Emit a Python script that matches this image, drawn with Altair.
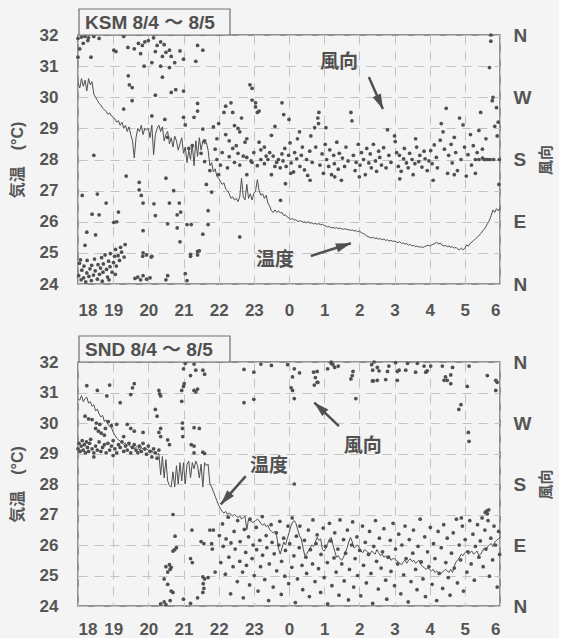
import altair as alt
import pandas as pd

# ---------------- data ----------------
hour_ticks = list(range(13))
temp_ticks = [24, 25, 26, 27, 28, 29, 30, 31, 32]
dir_ticks = [0, 90, 180, 270, 360]
dir_labels = ["N", "E", "S", "W", "N"]
STEP_H = 0.05  # 3-minute readings, hours after 18:00

ksm_temp = [
    30.45, 30.3, 30.6, 30.35, 30.55, 30.2, 30.6, 30.4, 30.5, 30.1, 30.0, 29.9, 29.8, 29.75, 29.65, 29.6, 29.55, 29.45, 29.5, 29.4,
    29.35, 29.3, 29.2, 29.25, 29.1, 29.2, 29.0, 29.1, 28.9, 29.05, 28.8, 28.6, 28.05, 28.7, 29.0, 28.9, 29.1, 28.8, 29.0, 28.95,
    29.0, 28.7, 29.1, 28.15, 28.8, 29.0, 29.1, 28.9, 29.05, 28.6, 28.8, 28.9, 28.5, 28.7, 28.4, 28.75, 28.6, 28.3, 28.5, 28.7,
    28.2, 28.4, 27.9, 28.3, 28.0, 28.5, 27.8, 28.6, 28.1, 28.7, 28.3, 28.6, 28.5, 28.55, 28.3, 27.8, 27.9, 27.6, 27.7, 27.45,
    27.4, 27.3, 27.2, 27.25, 27.05, 27.0, 26.9, 26.75, 26.8, 26.7, 26.75, 26.65, 26.8, 27.4, 26.8, 26.7, 27.2, 26.75, 26.9, 26.7,
    26.9, 27.0, 27.35, 27.0, 26.85, 26.9, 26.75, 26.85, 26.6, 26.5, 26.35, 26.3, 26.38, 26.3, 26.35, 26.28, 26.3, 26.2, 26.22, 26.15,
    26.12, 26.08, 26.1, 26.05, 26.07, 26.0, 26.03, 26.02, 25.98, 26.0, 25.97, 26.0, 25.95, 25.97, 25.93, 25.95, 25.92, 25.94, 25.9, 25.92,
    25.88, 25.86, 25.83, 25.85, 25.8, 25.82, 25.79, 25.81, 25.78, 25.8, 25.77, 25.76, 25.78, 25.74, 25.75, 25.72, 25.74, 25.7, 25.72, 25.68,
    25.7, 25.66, 25.62, 25.6, 25.55, 25.52, 25.5, 25.48, 25.5, 25.46, 25.48, 25.44, 25.46, 25.42, 25.45, 25.4, 25.42, 25.38, 25.4, 25.37,
    25.38, 25.35, 25.33, 25.36, 25.3, 25.32, 25.28, 25.3, 25.25, 25.27, 25.22, 25.24, 25.2, 25.22, 25.18, 25.2, 25.17, 25.2, 25.22, 25.25,
    25.22, 25.25, 25.28, 25.3, 25.35, 25.28, 25.32, 25.25, 25.22, 25.24, 25.2, 25.22, 25.18, 25.2, 25.15, 25.18, 25.12, 25.1, 25.15, 25.1,
    25.15, 25.25, 25.22, 25.3, 25.35, 25.4, 25.45, 25.5, 25.55, 25.62, 25.7, 25.75, 25.85, 25.95, 26.05, 26.2, 26.38, 26.3, 26.42, 26.35, 26.45,
]

snd_temp = [
    30.8, 30.75, 30.9, 30.7, 30.8, 30.85, 30.65, 30.7, 30.55, 30.6, 30.4, 30.45, 30.3, 30.2, 30.25, 30.05, 30.1, 29.95, 29.9, 29.85,
    29.7, 29.6, 29.5, 29.45, 29.4, 29.35, 29.3, 29.35, 29.25, 29.3, 29.2, 29.25, 29.15, 29.2, 29.25, 29.1, 29.2, 29.15, 29.1, 29.15,
    29.1, 29.05, 29.1, 29.0, 29.05, 28.95, 29.0, 28.3, 28.9, 28.2, 28.8, 28.1, 27.95, 27.9, 28.4, 27.9, 28.6, 28.0, 28.7, 28.1,
    28.7, 28.0, 28.65, 28.75, 28.2, 28.7, 28.5, 28.75, 28.6, 28.2, 28.65, 27.9, 28.7, 28.6, 28.65, 28.0, 27.9, 27.75, 27.6, 27.45,
    27.3, 27.2, 27.1, 27.05, 27.1, 27.0, 27.05, 27.0, 26.95, 27.0, 26.95, 26.9, 26.95, 26.85, 26.9, 26.95, 26.5, 26.85, 26.8, 26.75,
    26.75, 26.8, 26.85, 26.8, 26.7, 26.65, 26.7, 26.6, 26.65, 26.5, 26.45, 26.4, 26.45, 26.3, 25.9, 25.7, 25.9, 26.1, 26.0, 26.2,
    26.4, 26.6, 26.75, 26.8, 26.7, 26.5, 26.3, 26.2, 25.9, 25.65, 25.7, 25.8, 25.9, 26.0, 25.95, 26.1, 26.25, 26.15, 26.2, 25.85,
    25.8, 25.9, 26.05, 26.2, 26.25, 26.0, 25.8, 25.6, 25.65, 25.55, 25.5, 25.6, 25.75, 25.9, 26.1, 26.25, 26.1, 25.9, 25.95, 26.0,
    25.9, 25.8, 25.75, 25.85, 25.8, 25.75, 25.7, 25.8, 25.75, 25.7, 25.85, 25.75, 25.65, 25.7, 25.6, 25.65, 25.55, 25.6, 25.5, 25.55,
    25.55, 25.5, 25.45, 25.4, 25.35, 25.45, 25.5, 25.4, 25.5, 25.55, 25.45, 25.5, 25.4, 25.45, 25.5, 25.35, 25.3, 25.25, 25.2, 25.25,
    25.2, 25.15, 25.2, 25.1, 25.15, 25.1, 25.05, 25.1, 25.15, 25.2, 25.15, 25.1, 25.2, 25.1, 25.3, 25.45, 25.5, 25.6, 25.7, 25.65,
    25.75, 25.8, 25.7, 25.75, 25.8, 25.7, 25.75, 25.8, 25.65, 25.7, 25.8, 25.9, 25.85, 25.95, 26.0, 26.05, 25.95, 26.1, 26.15, 26.2, 26.25,
]

# wind direction readings: (hours after 18:00, degrees; 0/360 = N, 90 = E, 180 = S, 270 = W)
ksm_wind = [
    (0.02, 12), (0.04, 30), (0.09, 6), (0.11, 20), (0.16, 9), (0.17, 26), (0.22, 3), (0.25, 16), (0.26, 34), (0.31, 11),
    (0.34, 22), (0.38, 5), (0.39, 27), (0.44, 13), (0.47, 36), (0.49, 19), (0.55, 7), (0.57, 28), (0.61, 14), (0.64, 23),
    (0.67, 38), (0.71, 17), (0.72, 29), (0.77, 42), (0.81, 21), (0.84, 10), (0.87, 33), (0.91, 25), (0.92, 44), (0.97, 17),
    (1.01, 31), (1.04, 40), (1.07, 50), (1.09, 26), (1.14, 41), (1.18, 34), (1.21, 53), (1.24, 46), (1.31, 39), (1.34, 57),
    (1.06, 14), (0.88, 6), (0.69, 4),
    (1.62, 8), (1.7, 10), (1.78, 6), (1.85, 12), (1.95, 7), (2.05, 9), (2.1, 40), (2.5, 6), (2.55, 12), (3.05, 15),
    (3.1, 5), (3.4, 42), (3.45, 48), (3.2, 40), (1.85, 45), (1.95, 42),
    (0.0, 355), (0.05, 340), (0.1, 357), (0.15, 348), (0.2, 358), (0.28, 352), (0.37, 328), (0.45, 358), (0.6, 355),
    (0.0, 328), (0.3, 356), (1.02, 338), (1.08, 336), (1.3, 358), (1.42, 342), (1.6, 340), (1.72, 348), (1.78, 333),
    (1.83, 345), (1.9, 350), (1.88, 315), (2.0, 352), (2.15, 356), (2.25, 345), (2.35, 350), (2.4, 329), (2.45, 346),
    (2.5, 335), (2.6, 338), (2.65, 329), (2.75, 320), (2.9, 337), (3.0, 325), (3.35, 322), (3.4, 345), (3.55, 338),
    (2.1, 320), (2.2, 336),
    (0.45, 186), (0.12, 128), (0.4, 101), (0.2, 56), (0.5, 71), (0.07, 35), (0.8, 117), (1.02, 89), (1.1, 90), (1.15, 104),
    (1.37, 156), (1.43, 301), (1.46, 288), (1.54, 284), (1.54, 265), (1.3, 253), (1.74, 147), (1.74, 136), (1.8, 128),
    (1.85, 77), (1.85, 117), (2.08, 39), (1.84, 40), (2.16, 116), (2.2, 99), (2.1, 243), (2.2, 273), (2.4, 299), (2.35, 315),
    (2.6, 313), (2.65, 277), (2.78, 281), (2.47, 238), (2.55, 212), (2.5, 153), (2.6, 117), (2.55, 87), (2.72, 135),
    (2.88, 117), (2.92, 104), (2.82, 100), (2.82, 81), (2.9, 61), (3.1, 86), (3.22, 86), (3.2, 43), (3.4, 47), (3.4, 250),
    (3.4, 261), (3.0, 241), (3.3, 241), (3.0, 279), (3.55, 224), (3.6, 207), (3.5, 189), (3.6, 177), (3.65, 144),
    (3.7, 106), (3.75, 164), (3.7, 86), (3.55, 72), (3.8, 133), (0.6, 100), (0.25, 75), (0.55, 130), (3.05, 230),
    (3.15, 196), (3.25, 200),
    (3.85, 227), (4.0, 232), (4.15, 248), (4.2, 257), (4.4, 248), (4.45, 229), (4.55, 225), (4.6, 220), (4.3, 207),
    (4.4, 196), (4.55, 189), (4.7, 185), (4.92, 178), (3.9, 195), (3.95, 180), (4.05, 172), (4.0, 158), (4.25, 168),
    (4.45, 176), (4.6, 172), (4.8, 158), (4.95, 176), (5.1, 171), (5.2, 180), (5.3, 174), (5.4, 180), (5.5, 158),
    (5.6, 170), (5.65, 176), (4.95, 266), (5.05, 262), (5.1, 248), (4.95, 283), (5.3, 198), (5.2, 194), (4.6, 68),
    (4.8, 183), (4.1, 190), (4.3, 184), (4.5, 200), (4.75, 205), (5.0, 190), (5.15, 205), (5.35, 185), (5.45, 190),
    (5.55, 185), (5.7, 180), (5.75, 168), (5.8, 188), (4.35, 262), (4.65, 240), (5.5, 215), (5.6, 228), (4.2, 216),
    (3.95, 210), (4.89, 288), (5.05, 256), (5.15, 250), (5.8, 262), (5.85, 245), (6.0, 238), (5.76, 121), (6.85, 248),
    (7.05, 226), (4.8, 210),
    (5.83, 178), (5.88, 196), (5.92, 170), (5.99, 186), (6.03, 204), (6.06, 175), (6.13, 162), (6.16, 190), (6.22, 181),
    (6.24, 210), (6.31, 170), (6.35, 186), (6.38, 198), (6.44, 165), (6.5, 180), (6.53, 157), (6.59, 192), (6.62, 214),
    (6.66, 176), (6.73, 226), (6.76, 198), (6.82, 240), (6.84, 232), (6.88, 172), (6.94, 188), (6.98, 160), (7.03, 202),
    (7.07, 180), (7.13, 170), (7.16, 194), (7.21, 158), (7.27, 186), (7.29, 174), (7.36, 205), (7.4, 166), (7.43, 189),
    (7.49, 150), (7.52, 182), (7.58, 170), (7.62, 198), (7.68, 178), (7.76, 248), (7.79, 236), (7.83, 186), (7.88, 164),
    (7.91, 176), (7.97, 202), (8.02, 172), (8.06, 190), (8.12, 180), (8.17, 158), (8.21, 196), (8.27, 175), (8.31, 188),
    (8.34, 168), (8.4, 202), (8.46, 178), (8.49, 163), (8.55, 192), (8.58, 183), (8.63, 172), (8.69, 197), (8.8, 223),
    (8.76, 168), (8.84, 186), (8.9, 176), (9.0, 214), (9.02, 206), (9.06, 190), (9.11, 170), (9.14, 186), (9.19, 163),
    (9.26, 181), (9.28, 196), (9.34, 175), (9.39, 168), (9.43, 189), (9.5, 180), (9.53, 158), (9.58, 174), (9.63, 198),
    (9.69, 177), (9.72, 186), (9.78, 169), (9.84, 192), (9.87, 181), (9.93, 164), (9.98, 178), (10.03, 193), (10.07, 174),
    (10.13, 201), (10.19, 183), (10.22, 168), (10.3, 208), (10.33, 232), (10.38, 220), (10.42, 195), (10.47, 254),
    (10.51, 160), (10.54, 186), (10.61, 202), (10.64, 175), (10.7, 212), (10.74, 190), (10.79, 164), (10.85, 240),
    (10.89, 180), (10.95, 230), (10.99, 198), (11.04, 156), (11.09, 187), (11.16, 216), (11.19, 172), (11.24, 200),
    (11.3, 180), (11.35, 190), (11.4, 222), (11.45, 248), (11.5, 182), (11.55, 180), (11.6, 210), (11.65, 180),
    (11.7, 313), (11.72, 180), (11.74, 360), (11.74, 351), (11.78, 265), (11.8, 270), (11.82, 180), (11.85, 228),
    (11.9, 255), (11.92, 214), (11.95, 234), (11.97, 144), (11.98, 180), (11.6, 180), (11.4, 180), (11.5, 195),
    (6.3, 220), (6.05, 160), (7.3, 155), (8.0, 155), (9.15, 152), (9.6, 210), (10.1, 150), (10.7, 158), (11.3, 160),
    (6.6, 150), (5.9, 145),
]

snd_wind = [
    (0.0, 232), (0.03, 240), (0.06, 228), (0.09, 236), (0.12, 244), (0.15, 230), (0.18, 238), (0.21, 226), (0.24, 242),
    (0.27, 234), (0.3, 228), (0.33, 240), (0.36, 246), (0.4, 232), (0.45, 226), (0.5, 236), (0.55, 230), (0.6, 242),
    (0.65, 228), (0.7, 234), (0.75, 238), (0.8, 226), (0.85, 240), (0.9, 230), (0.95, 236), (1.0, 244), (1.05, 232),
    (1.1, 226), (1.15, 238), (1.2, 234), (1.25, 242), (1.3, 228), (1.35, 236), (1.4, 230), (1.45, 240), (1.5, 226),
    (1.55, 234), (1.6, 238), (1.65, 230), (1.7, 226), (1.75, 236), (1.8, 228), (1.85, 240), (1.9, 232), (1.95, 224),
    (2.0, 236), (2.05, 228), (2.1, 220), (2.15, 232), (2.2, 226), (2.25, 218), (2.3, 230), (1.0, 222), (0.45, 220),
    (0.5, 262), (0.58, 258), (0.62, 268), (0.66, 255), (0.78, 262), (0.86, 272), (0.95, 266), (0.3, 276), (0.4, 275),
    (0.52, 270), (0.75, 252), (0.2, 280), (1.4, 268), (1.5, 262), (1.6, 258), (1.85, 256), (2.2, 290), (2.25, 280),
    (2.35, 262), (2.35, 250), (2.3, 256), (1.1, 268), (1.3, 250),
    (0.55, 318), (0.9, 326), (0.82, 310), (1.55, 322), (1.5, 312), (1.6, 328), (2.3, 318), (2.32, 313), (2.35, 310),
    (0.25, 325), (1.2, 300),
    (2.95, 318), (3.0, 324), (3.02, 328), (2.95, 302), (2.97, 270), (2.97, 262), (2.98, 250), (3.3, 318), (3.35, 316),
    (3.4, 320), (3.22, 238), (3.3, 236), (3.3, 226), (3.55, 227), (3.6, 225), (3.3, 263), (3.45, 262), (2.6, 238),
    (2.55, 245),
    (3.0, 350), (3.05, 358), (3.3, 357), (3.35, 348), (3.55, 348), (3.6, 342), (3.2, 340), (4.72, 349), (5.0, 345),
    (5.2, 357), (5.5, 355), (6.1, 338), (6.15, 350), (6.3, 344), (6.7, 345), (6.75, 337), (6.8, 330), (6.72, 326),
    (7.1, 350), (7.2, 358), (7.3, 352), (7.4, 354), (7.8, 340), (7.82, 346), (4.72, 300), (5.0, 305), (6.1, 318),
    (6.15, 180), (5.96, 356), (6.06, 322), (6.15, 306), (6.8, 346), (6.82, 330), (7.2, 360), (7.25, 356), (7.76, 335),
    (7.9, 306), (8.35, 356), (8.38, 348), (8.4, 332),
    (8.42, 360), (8.51, 352), (8.56, 347), (8.37, 332), (8.51, 333), (8.75, 334), (8.8, 346), (8.84, 354), (9.03, 359),
    (9.08, 346), (9.13, 348), (9.08, 333), (9.32, 348), (9.37, 358), (9.6, 345), (9.65, 358), (9.84, 354), (9.89, 345),
    (9.93, 347), (10.03, 354), (10.36, 354), (10.41, 333), (10.45, 338), (10.5, 333), (10.6, 341), (10.6, 328),
    (10.65, 352), (11.07, 324), (11.12, 354), (11.64, 340), (11.88, 333), (11.92, 330), (11.88, 318), (10.83, 290),
    (11.12, 243), (10.89, 297), (11.1, 256), (10.9, 130),
    (2.7, 135), (2.76, 103), (3.24, 112), (2.7, 81), (2.75, 83), (2.8, 86), (2.6, 61), (2.62, 54), (2.65, 57), (2.5, 58),
    (2.55, 50), (2.45, 40), (2.55, 32), (2.65, 22), (2.7, 20), (2.62, 8), (2.45, 6), (3.2, 70), (3.25, 64), (3.5, 95),
    (3.58, 92), (3.75, 112), (3.85, 112), (3.8, 92), (3.82, 84), (3.9, 50), (3.55, 43), (3.6, 40), (3.7, 42), (3.55, 20),
    (3.58, 26), (3.56, 33), (2.35, 3), (2.5, 2), (3.0, 10), (3.2, 4), (3.4, 12),
    (4.02, 104), (4.06, 64), (4.11, 121), (4.13, 88), (4.19, 47), (4.21, 99), (4.27, 131), (4.29, 72), (4.34, 18),
    (4.35, 93), (4.41, 58), (4.44, 110), (4.47, 84), (4.53, 36), (4.54, 126), (4.6, 66), (4.61, 95), (4.68, 50),
    (4.7, 12), (4.73, 113), (4.77, 79), (4.79, 60), (4.85, 102), (4.88, 31), (4.89, 128), (4.95, 70), (4.98, 90),
    (5.01, 45), (5.07, 116), (5.08, 83), (5.12, 22), (5.17, 97), (5.19, 58), (5.24, 132), (5.25, 75), (5.31, 39),
    (5.35, 104), (5.37, 86), (5.42, 8), (5.44, 62), (5.49, 120), (5.52, 94), (5.55, 28), (5.58, 77), (5.64, 108),
    (5.65, 52), (5.71, 90), (5.74, 125), (5.78, 17), (5.79, 66), (5.85, 100), (5.88, 44), (5.9, 82), (5.97, 118),
    (5.99, 33), (6.02, 92), (6.08, 57), (6.09, 130), (6.14, 74), (6.18, 5), (6.21, 103), (6.24, 40), (6.29, 86),
    (6.31, 118), (6.37, 60), (6.39, 24), (6.44, 97), (6.48, 72), (6.5, 48), (6.55, 112), (6.58, 14), (6.61, 83),
    (6.67, 62), (6.68, 127), (6.74, 36), (6.77, 92), (6.8, 105), (6.84, 55), (6.9, 20), (6.91, 76), (6.97, 115),
    (7.0, 42), (7.04, 88), (7.09, 64), (7.1, 3), (7.15, 122), (7.19, 96), (7.22, 30), (7.28, 71), (7.3, 108), (7.34, 50),
    (7.39, 84), (7.42, 16), (7.45, 127), (7.5, 62), (7.55, 98), (7.57, 37), (7.61, 78), (7.66, 112), (7.69, 9),
    (7.72, 54), (7.78, 90), (7.81, 124), (7.84, 28), (7.88, 70), (7.93, 102), (7.95, 45), (8.01, 82), (8.04, 15),
    (8.09, 118), (8.12, 60), (8.17, 94), (8.2, 34), (8.26, 76), (8.29, 110), (8.33, 48), (8.38, 4), (8.41, 88),
    (8.46, 126), (8.49, 66), (8.54, 25), (8.57, 100), (8.62, 56), (8.66, 80), (8.7, 114), (8.75, 38), (8.78, 10),
    (8.83, 72), (8.88, 97), (8.9, 51), (8.96, 122), (9.0, 30), (9.03, 84), (9.09, 62), (9.12, 106), (9.18, 18),
    (9.21, 90), (9.26, 46), (9.3, 118), (9.33, 70), (9.39, 6), (9.42, 98), (9.47, 36), (9.52, 78), (9.54, 112),
    (9.6, 54), (9.64, 24), (9.67, 88), (9.73, 128), (9.76, 65), (9.81, 40), (9.86, 102), (9.88, 14), (9.94, 80),
    (9.98, 58), (10.02, 116), (10.07, 32), (10.11, 92), (10.15, 70), (10.2, 8), (10.24, 110), (10.27, 48), (10.33, 86),
    (10.37, 26), (10.4, 120), (10.46, 64), (10.5, 100), (10.53, 42), (10.58, 16), (10.62, 78), (10.67, 108),
    (10.7, 56), (10.76, 128), (10.79, 34), (10.84, 90), (10.88, 68), (10.93, 118), (10.96, 22), (11.01, 98),
    (11.06, 50), (11.09, 80), (11.14, 126), (11.18, 62), (11.23, 106), (11.27, 38), (11.3, 88), (11.36, 120),
    (11.4, 72), (11.44, 96), (11.49, 130), (11.52, 58), (11.57, 112), (11.6, 84), (11.66, 126), (11.7, 44),
    (11.74, 100), (11.79, 68), (11.83, 118), (11.87, 90), (11.92, 28), (11.96, 110), (11.99, 76),
    (11.58, 138), (11.62, 140), (11.64, 136), (11.68, 142),
]

# annotation texts (label, hour, temperature-axis position)
ksm_notes = [("風向", 7.42, 31.13), ("温度", 5.6, 24.77)]
snd_notes = [("温度", 5.43, 28.6), ("風向", 8.1, 29.25)]
# arrows (start hour, start temp, tip hour, tip temp, head angle)
ksm_arrows = [(8.27, 30.65, 8.67, 29.62, 156), (6.62, 24.9, 7.76, 25.31, 72)]
snd_arrows = [(4.77, 28.26, 4.06, 27.33, 221), (7.42, 29.9, 6.72, 30.67, 313)]

# ---------------- style ----------------
FONT = "Liberation Sans, Arial, Noto Sans CJK JP, sans-serif"
INK = "#505050"
BG = "#f4f4f4"
GRID = "#c2c2c2"
W = 422


def panel(temp, wind, title, notes, arrows, height, xpad):
    tdf = pd.DataFrame({"h": [i * STEP_H for i in range(len(temp))], "t": temp})
    wdf = pd.DataFrame(wind, columns=["h", "d"])
    ndf = pd.DataFrame(notes, columns=["label", "h", "t"])
    adf = pd.DataFrame(arrows, columns=["h", "t", "h2", "t2", "ang"])

    xs = alt.Scale(domain=[0, 12], nice=False, zero=False)
    xaxis = alt.Axis(values=hour_ticks, labelExpr="(datum.value + 18) % 24", title=None,
                     grid=True, labelPadding=xpad, labelAngle=0)
    ts = alt.Scale(domain=[24, 32], nice=False, zero=False)
    yaxis = alt.Axis(values=temp_ticks, title="気温　(°C)", grid=True, labelPadding=20,
                     titlePadding=14, titleFontSize=16)
    ds = alt.Scale(domain=[0, 360], nice=False, zero=False)
    daxis = alt.Axis(orient="right", values=dir_ticks,
                     labelExpr="['N','E','S','W','N'][round(datum.value / 90)]",
                     title="風向", titleAngle=270, titleBaseline="top", titleFontSize=15,
                     titlePadding=8, grid=False, labelPadding=13, labelFontSize=19)

    X = alt.X("h:Q", scale=xs, axis=xaxis)

    line = alt.Chart(tdf).mark_line(color=INK, strokeWidth=1).encode(
        x=X, y=alt.Y("t:Q", scale=ts, axis=yaxis))
    pts = alt.Chart(wdf).mark_circle(color=INK, size=14, opacity=1).encode(
        x=X, y=alt.Y("d:Q", scale=ds, axis=daxis))
    txt = alt.Chart(ndf).mark_text(font=FONT, fontSize=19, fontWeight="bold", color=INK).encode(
        x=X, y=alt.Y("t:Q", scale=ts, axis=None), text="label:N")
    shaft = alt.Chart(adf).mark_rule(color=INK, strokeWidth=2.5).encode(
        x=X, y=alt.Y("t:Q", scale=ts, axis=None), x2="h2:Q", y2="t2:Q")
    head = alt.Chart(adf).mark_point(shape="M0,0L0.9,3L-0.9,3Z", filled=True, size=100,
                                     color=INK, opacity=1).encode(
        x=alt.X("h2:Q", scale=xs, axis=xaxis), y=alt.Y("t2:Q", scale=ts, axis=None),
        angle=alt.Angle("ang:Q", scale=None))
    box_df = pd.DataFrame({"label": [title]})
    box = alt.Chart(box_df).mark_rect(fill=BG, stroke="#707070", strokeWidth=1.2).encode(
        x=alt.value(1), x2=alt.value(152), y=alt.value(-26), y2=alt.value(0))
    box_txt = alt.Chart(box_df).mark_text(font=FONT, fontSize=19, fontWeight="bold", color=INK,
                                          align="left", baseline="middle").encode(
        x=alt.value(7), y=alt.value(-12), text="label:N")

    return alt.layer(line, pts, shaft, head, txt, box, box_txt).resolve_scale(
        y="independent").properties(width=W, height=height)


p1 = panel(ksm_temp, ksm_wind, "KSM 8/4 ～ 8/5", ksm_notes, ksm_arrows, 249, 18)
p2 = panel(snd_temp, snd_wind, "SND 8/4 ～ 8/5", snd_notes, snd_arrows, 244, 15)

chart = alt.vconcat(p1, p2, spacing=15).properties(
    background=BG,
    padding={"left": 8, "top": 7, "right": 4, "bottom": 0},
).configure_view(
    stroke="#707070", strokeWidth=1.5
).configure_axis(
    labelFont=FONT, labelFontSize=17, labelFontWeight="bold", labelColor="#555555",
    titleFont=FONT, titleFontWeight="bold", titleColor="#555555",
    domain=False, ticks=False, gridColor=GRID, gridDash=[9, 7], gridWidth=1,
)

chart.save("out.html", embed_options={"renderer": "svg", "actions": False})
